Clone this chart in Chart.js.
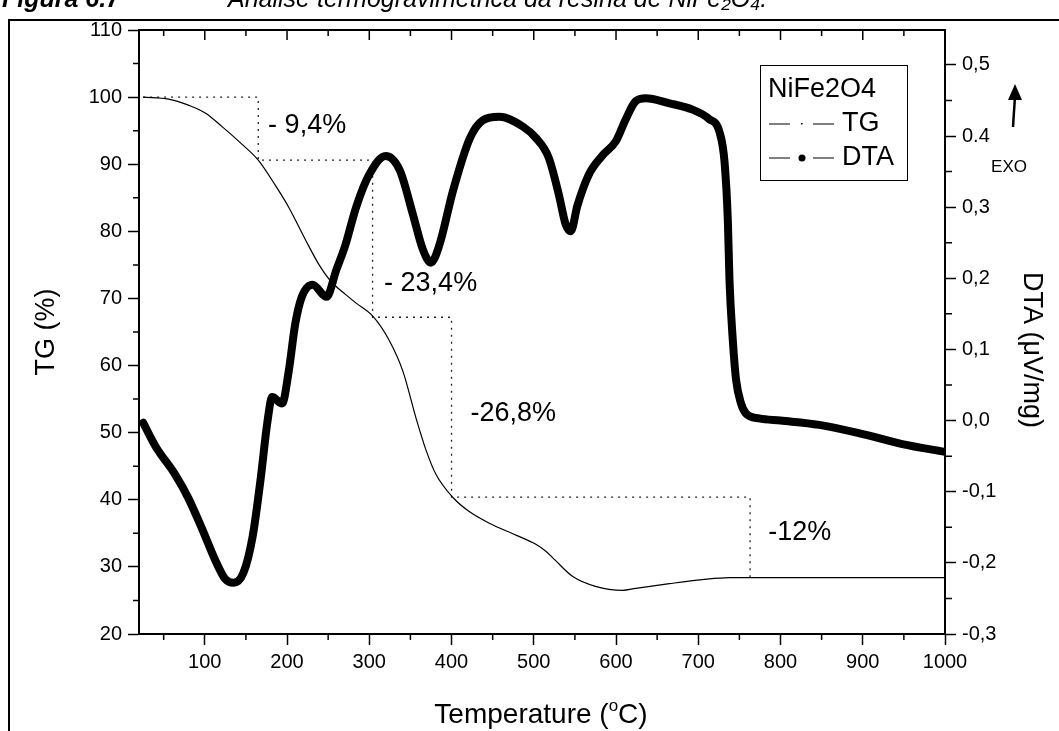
<!DOCTYPE html>
<html>
<head>
<meta charset="utf-8">
<script src="https://cdn.jsdelivr.net/npm/chart.js@4.4.0/dist/chart.umd.min.js"></script>
<style>
    html, body { margin: 0; padding: 0; background: #fff; }
    #wrap { width: 1059px; height: 731px; position: relative; }
</style>
</head>
<body>
<div id="wrap"><canvas id="tg-chart" width="1059" height="731"></canvas></div>
<script>
// TG curve (left axis, %)
const tempTG = [25, 56, 80, 101, 121, 145, 165, 186, 202, 223, 239, 253, 271, 284, 304, 324, 341, 357, 369, 381, 402, 422, 446, 479, 502, 515, 526, 547, 575, 608, 624, 665, 705, 738, 760, 1000];
const tgValues = [100, 99.7, 98.8, 97.6, 95.6, 93.0, 90.6, 86.8, 83.6, 78.6, 75.0, 72.6, 70.6, 69.3, 67.4, 63.8, 59.1, 52.1, 47.4, 43.8, 40.3, 38.2, 36.5, 34.7, 33.4, 32.3, 31.0, 28.6, 27.1, 26.5, 26.8, 27.5, 28.1, 28.4, 28.4, 28.4];

// DTA curve (right axis, uV/mg)
const tempDTA = [25, 40, 64, 80, 97, 113, 125, 135, 147, 158, 168, 176, 182, 194, 202, 210, 218, 231, 248, 260, 271, 284, 300, 320, 337, 353, 365, 375, 385, 402, 422, 438, 458, 487, 502, 518, 530, 539, 545, 553, 567, 583, 600, 612, 624, 636, 665, 693, 713, 726, 732, 736, 738, 742, 746, 752, 758, 774, 800, 847, 900, 948, 1000];
const dtaValues = [-0.003, -0.036, -0.076, -0.109, -0.153, -0.197, -0.223, -0.228, -0.214, -0.164, -0.081, -0.003, 0.033, 0.024, 0.069, 0.136, 0.174, 0.191, 0.174, 0.212, 0.247, 0.300, 0.346, 0.372, 0.352, 0.290, 0.241, 0.222, 0.246, 0.324, 0.396, 0.422, 0.427, 0.413, 0.398, 0.370, 0.320, 0.275, 0.266, 0.302, 0.346, 0.372, 0.393, 0.424, 0.449, 0.453, 0.446, 0.437, 0.424, 0.405, 0.363, 0.280, 0.196, 0.113, 0.057, 0.024, 0.010, 0.003, 0.0, -0.006, -0.019, -0.033, -0.044];

// dotted mass-loss steps
const stepTemp = [25, 165, 165, 304, 304, 400, 400, 763, 763];
const stepTG = [100, 100, 90.6, 90.6, 67.2, 67.2, 40.4, 40.4, 28.4];
const lossLabels = ['- 9,4%', '- 23,4%', '-26,8%', '-12%'];
const lossLabelTemp = [177, 318, 423, 785];
const lossLabelTG = [95.7, 72.2, 52.9, 35.1];

const xTicks = [100, 200, 300, 400, 500, 600, 700, 800, 900, 1000];
const tgTicks = [20, 30, 40, 50, 60, 70, 80, 90, 100, 110];
const dtaTicks = [-0.3, -0.2, -0.1, 0.0, 0.1, 0.2, 0.3, 0.4, 0.5];
const dtaTickLabels = ['-0,3', '-0,2', '-0,1', '0,0', '0,1', '0,2', '0,3', '0.4', '0,5'];

function toPoints(xs, ys) {
    return xs.map(function (v, i) { return { x: v, y: ys[i] }; });
}

const FONT = 'Arial, "Liberation Sans", sans-serif';
Chart.defaults.font.family = FONT;
Chart.defaults.color = '#000';

const axisGrid = { drawOnChartArea: false, drawTicks: true, tickLength: 11, tickColor: '#000', tickWidth: 1.5, color: '#000' };
const axisBorder = { display: true, color: '#000', width: 2 };

const extras = {
    id: 'extras',
    afterDraw: function (chart) {
        const ctx = chart.ctx;
        const area = chart.chartArea;
        const x = chart.scales.x, y = chart.scales.y, y2 = chart.scales.y2;
        ctx.save();
        ctx.strokeStyle = '#000';
        ctx.fillStyle = '#000';

        // top frame line of the plot
        ctx.lineWidth = 2;
        ctx.beginPath();
        ctx.moveTo(area.left - 1, area.top);
        ctx.lineTo(area.right + 1, area.top);
        ctx.stroke();

        // minor + top ticks
        ctx.lineWidth = 1.5;
        ctx.beginPath();
        for (let v = 50; v <= 1000; v += 50) {
            let px = x.getPixelForValue(v);
            ctx.moveTo(px, area.top);
            ctx.lineTo(px, area.top + (v % 100 === 0 ? 10 : 6));
            if (v % 100 !== 0) {
                ctx.moveTo(px, area.bottom);
                ctx.lineTo(px, area.bottom + 6);
            }
        }
        for (let v = 25; v < 110; v += 10) {
            let py = y.getPixelForValue(v);
            ctx.moveTo(area.left, py);
            ctx.lineTo(area.left - 6, py);
        }
        for (let v = -0.25; v < 0.5; v += 0.1) {
            let py = y2.getPixelForValue(v);
            ctx.moveTo(area.right, py);
            ctx.lineTo(area.right + 7, py);
        }
        ctx.stroke();

        // mass loss labels
        ctx.font = '27px ' + FONT;
        ctx.textAlign = 'left';
        ctx.textBaseline = 'middle';
        lossLabels.forEach(function (t, i) {
            ctx.fillText(t, x.getPixelForValue(lossLabelTemp[i]), y.getPixelForValue(lossLabelTG[i]));
        });

        // legend
        ctx.lineWidth = 1;
        ctx.strokeRect(760.5, 65.5, 147, 115);
        ctx.font = '27px ' + FONT;
        ctx.fillText('NiFe2O4', 768, 90);
        ctx.fillText('TG', 842, 124);
        ctx.fillText('DTA', 842, 158);
        ctx.beginPath();
        ctx.moveTo(769, 124); ctx.lineTo(790, 124);
        ctx.moveTo(813, 124); ctx.lineTo(834, 124);
        ctx.moveTo(769, 158); ctx.lineTo(790, 158);
        ctx.moveTo(813, 158); ctx.lineTo(834, 158);
        ctx.stroke();
        ctx.fillRect(801, 123, 1.5, 1.5);
        ctx.beginPath();
        ctx.arc(802, 158, 3.5, 0, Math.PI * 2);
        ctx.fill();

        // EXO arrow
        ctx.lineWidth = 2.5;
        ctx.beginPath();
        ctx.moveTo(1013, 127);
        ctx.lineTo(1015, 96);
        ctx.stroke();
        ctx.beginPath();
        ctx.moveTo(1015, 84);
        ctx.lineTo(1008, 100);
        ctx.lineTo(1022, 100);
        ctx.closePath();
        ctx.fill();
        ctx.font = '17px ' + FONT;
        ctx.textAlign = 'center';
        ctx.fillText('EXO', 1009, 167);

        // axis titles
        ctx.textBaseline = 'alphabetic';
        let tx = 541, ty = 723;
        let part1 = 'Temperature (', part2 = 'C)';
        ctx.font = '28px ' + FONT;
        let w1 = ctx.measureText(part1).width, w2 = ctx.measureText(part2).width;
        ctx.font = '17px ' + FONT;
        let wo = ctx.measureText('o').width;
        let startX = tx - (w1 + wo + w2) / 2;
        ctx.textAlign = 'left';
        ctx.font = '28px ' + FONT;
        ctx.fillText(part1, startX, ty);
        ctx.font = '17px ' + FONT;
        ctx.fillText('o', startX + w1, ty - 12);
        ctx.font = '28px ' + FONT;
        ctx.fillText(part2, startX + w1 + wo, ty);

        ctx.textAlign = 'center';
        ctx.textBaseline = 'middle';
        ctx.font = '27px ' + FONT;
        ctx.save();
        ctx.translate(47, 332);
        ctx.rotate(-Math.PI / 2);
        ctx.fillText('TG (%)', 0, 0);
        ctx.restore();
        ctx.save();
        ctx.translate(1031, 350);
        ctx.rotate(Math.PI / 2);
        ctx.fillText('DTA (\u03BCV/mg)', 0, 0);
        ctx.restore();

        // outer figure frame + caption
        ctx.lineWidth = 2;
        ctx.beginPath();
        ctx.moveTo(9, 731);
        ctx.lineTo(9, 20);
        ctx.lineTo(1059, 20);
        ctx.stroke();
        ctx.textAlign = 'left';
        ctx.textBaseline = 'alphabetic';
        ctx.font = 'bold italic 25px ' + FONT;
        ctx.fillText('Figura 6.7', 2, 7);
        ctx.font = 'italic 25px ' + FONT;
        ctx.fillText('An\u00e1lise termogravim\u00e9trica da resina de NiFe\u2082O\u2084.', 228, 7);
        ctx.restore();
    }
};

let tg_chart = document.getElementById('tg-chart').getContext('2d');
let tgChart = new Chart(tg_chart, {
    type: 'line',
    data: {
        datasets: [
            {
                label: 'TG',
                data: toPoints(tempTG, tgValues),
                yAxisID: 'y',
                borderColor: '#000',
                borderWidth: 1.2,
                pointRadius: 0,
                cubicInterpolationMode: 'monotone',
            },
            {
                label: 'DTA',
                data: toPoints(tempDTA, dtaValues),
                yAxisID: 'y2',
                borderColor: '#000',
                borderWidth: 8,
                borderCapStyle: 'round',
                borderJoinStyle: 'round',
                pointRadius: 0,
                cubicInterpolationMode: 'monotone',
            },
            {
                label: 'steps',
                data: toPoints(stepTemp, stepTG),
                yAxisID: 'y',
                borderColor: '#222',
                borderWidth: 1.3,
                borderDash: [2, 5],
                pointRadius: 0,
                tension: 0,
            },
        ],
    },
    options: {
        responsive: false,
        animation: false,
        layout: { padding: { top: 30, left: 0, right: 0, bottom: 0 } },
        plugins: {
            legend: { display: false },
            tooltip: { enabled: false },
        },
        scales: {
            x: {
                type: 'linear',
                position: 'bottom',
                min: 20,
                max: 1000,
                afterBuildTicks: function (scale) { scale.ticks = xTicks.map(v => ({ value: v })); },
                afterFit: function (scale) { scale.height = 97; },
                ticks: {
                    font: { size: 20 },
                    color: '#000',
                    padding: 5,
                    maxRotation: 0,
                    callback: function (value) { return String(value); },
                },
                grid: axisGrid,
                border: axisBorder,
            },
            y: {
                type: 'linear',
                position: 'left',
                min: 20,
                max: 110,
                afterBuildTicks: function (scale) { scale.ticks = tgTicks.map(v => ({ value: v })); },
                afterFit: function (scale) { scale.width = 139; },
                ticks: { font: { size: 20 }, color: '#000', padding: 6 },
                grid: axisGrid,
                border: axisBorder,
            },
            y2: {
                type: 'linear',
                position: 'right',
                min: -0.3,
                max: 0.549,
                afterBuildTicks: function (scale) { scale.ticks = dtaTicks.map(v => ({ value: v })); },
                afterFit: function (scale) { scale.width = 114; },
                ticks: {
                    font: { size: 20 },
                    color: '#000',
                    padding: 6,
                    callback: function (value, index) { return dtaTickLabels[index]; },
                },
                grid: axisGrid,
                border: axisBorder,
            },
        },
    },
    plugins: [extras],
});
</script>
</body>
</html>
